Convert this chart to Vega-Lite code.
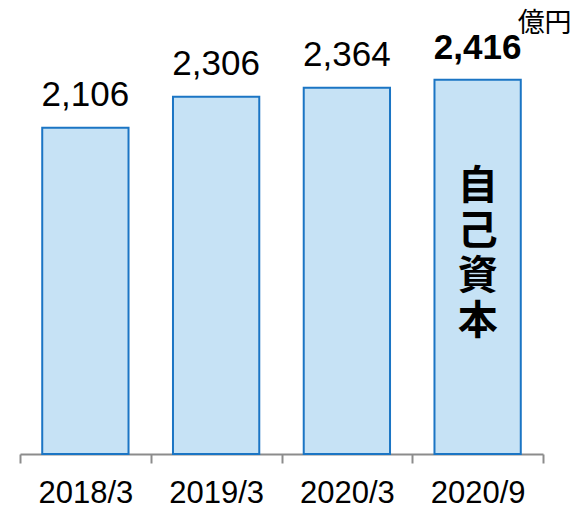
{
  "$schema": "https://vega.github.io/schema/vega-lite/v6.json",
  "width": 523,
  "height": 454,
  "autosize": "none",
  "padding": {"left": 20, "top": 0, "right": 30, "bottom": 53},
  "background": "white",
  "config": {"view": {"stroke": null}, "font": "Liberation Sans"},
  "data": {
    "values": [
      {"period": "2018/3", "value": 2106, "note": ""},
      {"period": "2019/3", "value": 2306, "note": ""},
      {"period": "2020/3", "value": 2364, "note": ""},
      {"period": "2020/9", "value": 2416, "note": "自\n己\n資\n本"}
    ]
  },
  "encoding": {
    "x": {
      "field": "period",
      "type": "nominal",
      "sort": null,
      "scale": {"paddingInner": 0, "paddingOuter": 0},
      "axis": {
        "title": null,
        "labelAngle": 0,
        "labelFont": "Liberation Sans",
        "labelFontSize": 31,
        "labelColor": "#000000",
        "labelPadding": 15,
        "domainColor": "#8C8C8C",
        "domainWidth": 2,
        "tickColor": "#8C8C8C",
        "tickWidth": 2,
        "tickSize": 9,
        "tickBand": "extent"
      }
    }
  },
  "layer": [
    {
      "mark": {"type": "bar", "width": {"band": 0.66}, "fill": "#C6E2F5", "stroke": "#1B75C4", "strokeWidth": 2},
      "encoding": {
        "y": {"field": "value", "type": "quantitative", "scale": {"domain": [0, 2930], "nice": false}, "axis": null}
      }
    },
    {
      "transform": [{"filter": "datum.period != '2020/9'"}],
      "mark": {"type": "text", "fontSize": 35, "font": "Liberation Sans", "color": "#000000", "baseline": "alphabetic", "dy": -22},
      "encoding": {
        "y": {"field": "value", "type": "quantitative"},
        "text": {"field": "value", "type": "quantitative", "format": ","}
      }
    },
    {
      "transform": [{"filter": "datum.period == '2020/9'"}],
      "mark": {"type": "text", "fontSize": 35, "fontWeight": "bold", "font": "Liberation Sans", "color": "#000000", "baseline": "alphabetic", "dy": -21},
      "encoding": {
        "y": {"field": "value", "type": "quantitative"},
        "text": {"field": "value", "type": "quantitative", "format": ","}
      }
    },
    {
      "transform": [{"filter": "datum.note != ''"}],
      "mark": {"type": "text", "fontSize": 40, "font": "Noto Sans CJK JP", "fontWeight": "bold", "color": "#000000", "baseline": "top", "lineBreak": "\n", "lineHeight": 45, "dy": 87},
      "encoding": {
        "y": {"field": "value", "type": "quantitative"},
        "text": {"field": "note", "type": "nominal"}
      }
    },
    {
      "data": {"values": [{"unit": "億円"}]},
      "mark": {"type": "text", "fontSize": 27, "font": "Noto Sans CJK JP", "color": "#000000", "align": "left", "baseline": "top", "dx": 40, "dy": 11},
      "encoding": {
        "x": {"datum": "2020/9"},
        "y": {"datum": 2930},
        "text": {"field": "unit", "type": "nominal"}
      }
    }
  ]
}
